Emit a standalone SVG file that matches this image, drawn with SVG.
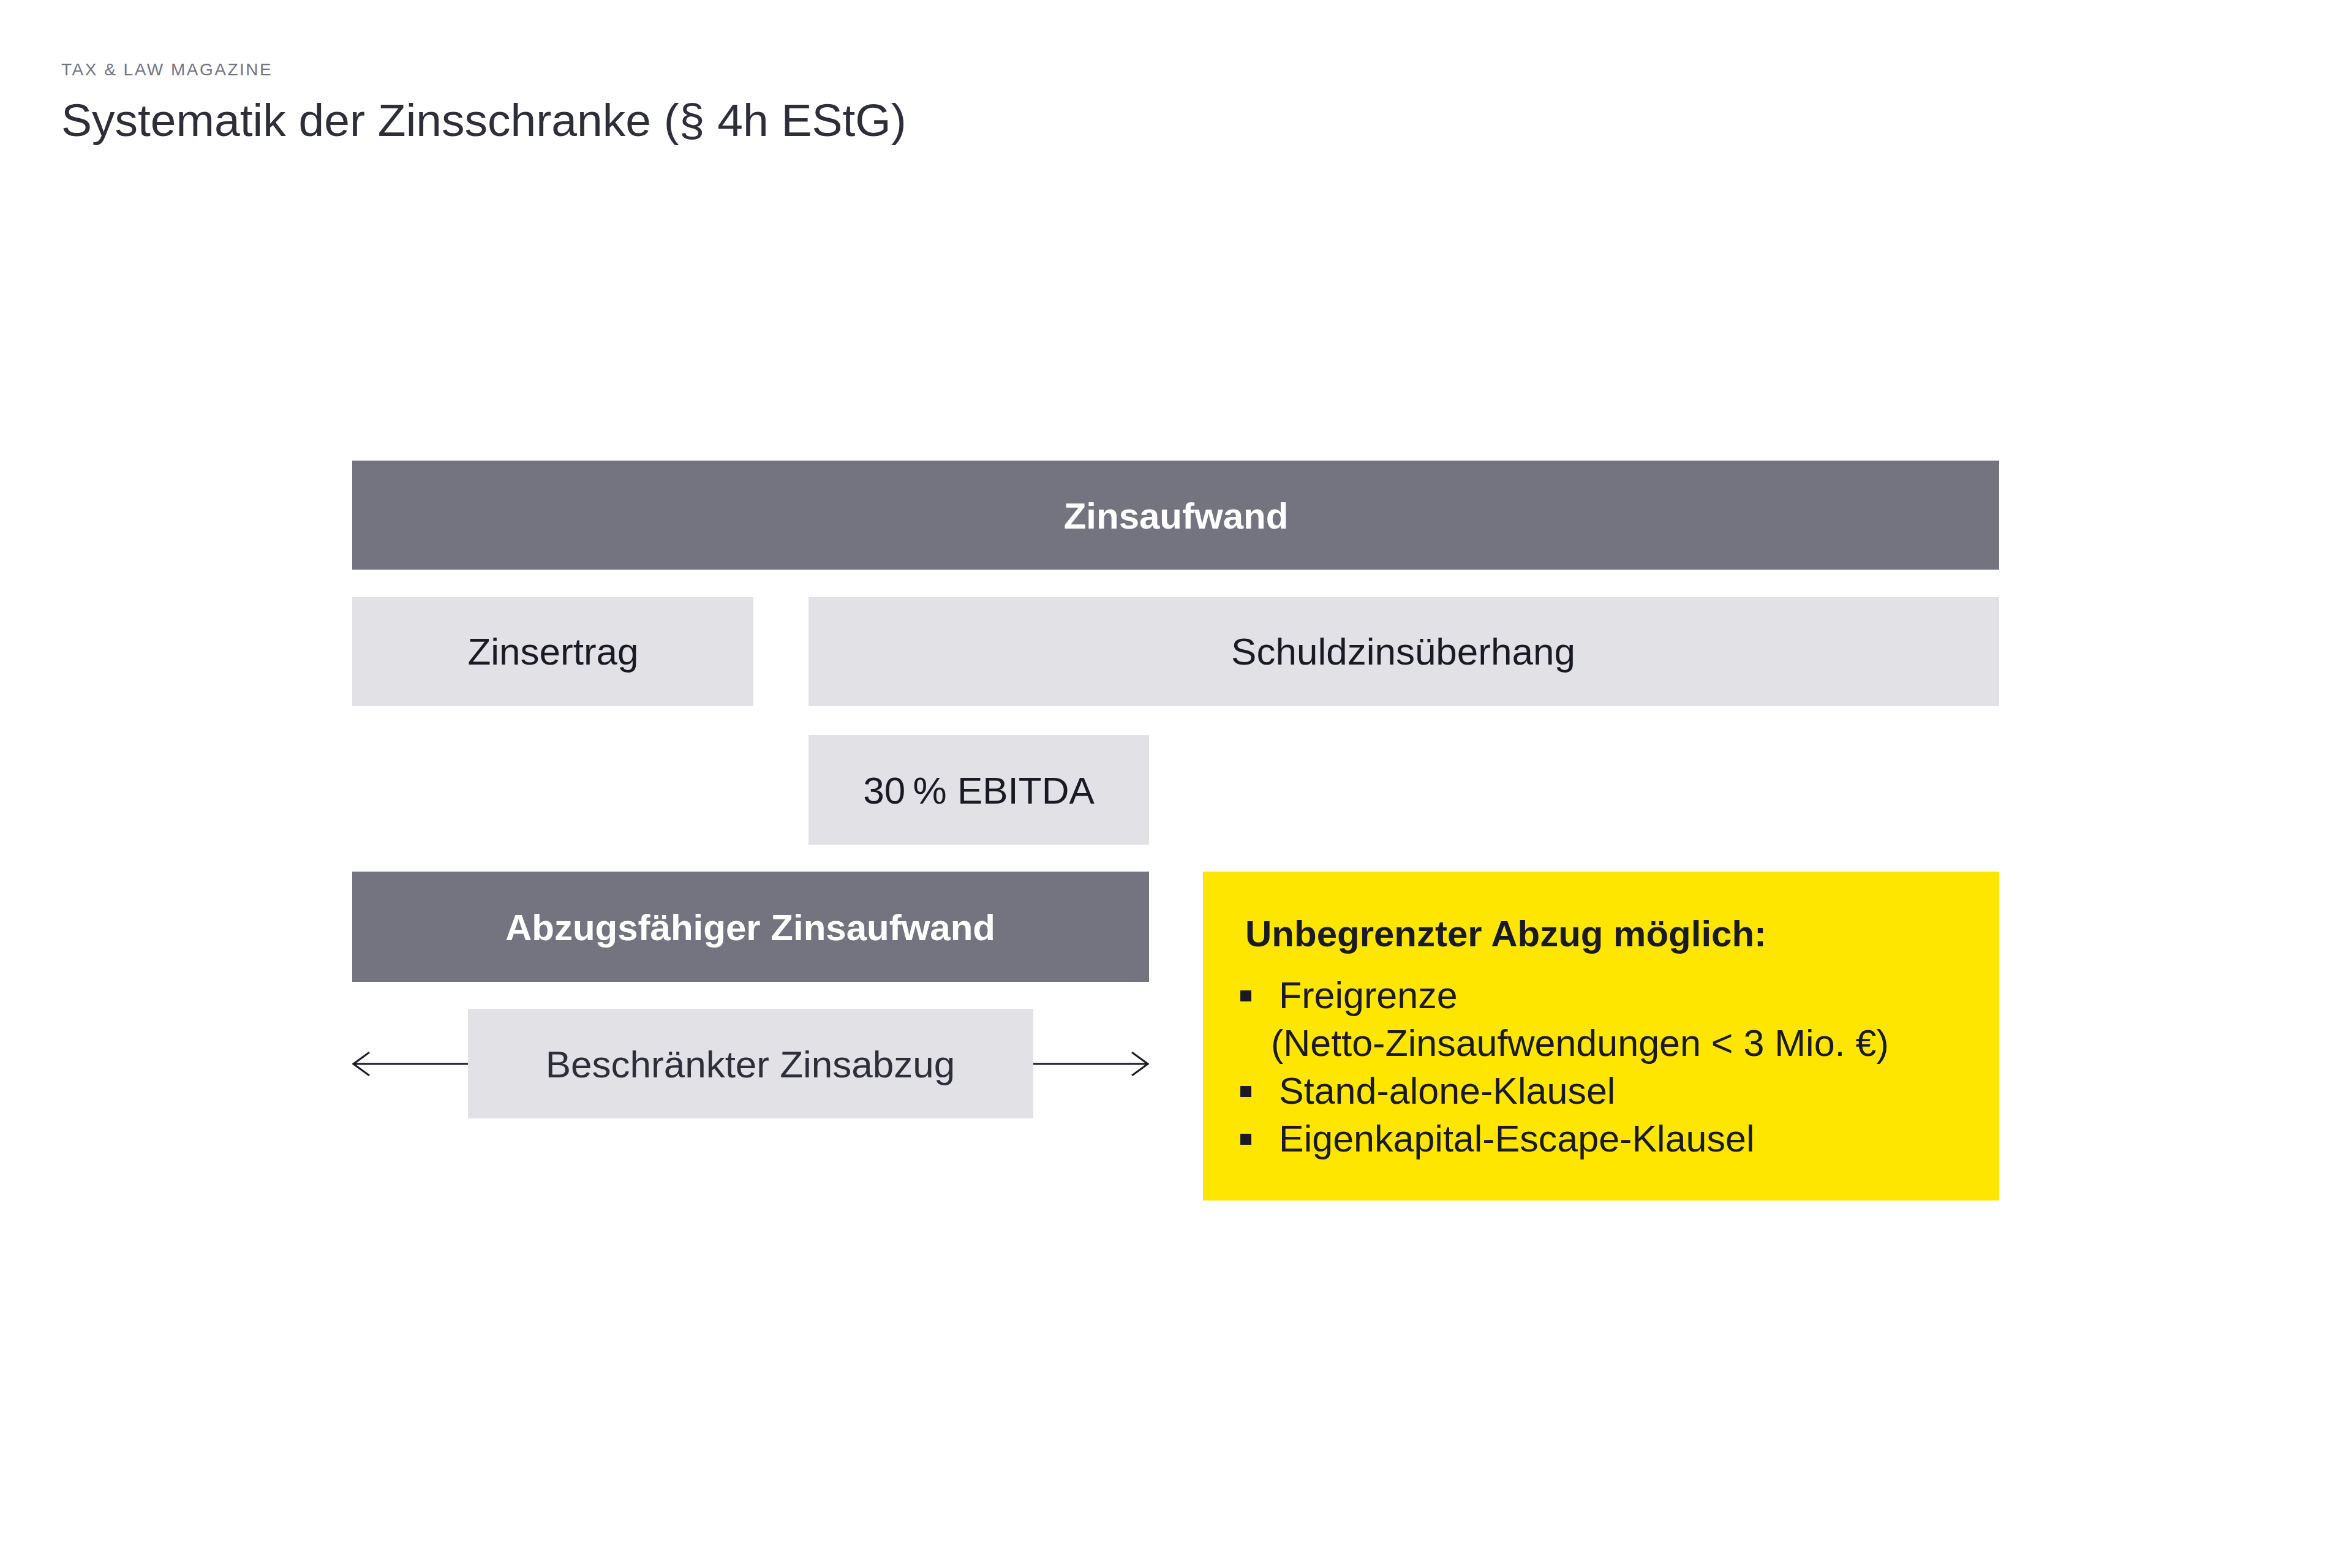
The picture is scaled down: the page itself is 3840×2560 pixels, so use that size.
<svg xmlns="http://www.w3.org/2000/svg" width="3840" height="2560" viewBox="0 0 3840 2560">
<style>
  text { font-family: "Liberation Sans", Arial, sans-serif; }
  .dark { fill: #747480; }
  .light { fill: #e1e1e6; }
  .yellow { fill: #ffe600; }
  .lbl { font-size: 62px; fill: #1a1a24; text-anchor: middle; }
  .lblw { font-size: 60px; font-weight: bold; fill: #ffffff; text-anchor: middle; }
  .item { font-size: 61px; fill: #1a1a24; }
  .conn { stroke: #1a1a24; stroke-width: 3; fill: none; }
</style>
<defs>
  <marker id="chev" viewBox="0 0 30 40" refX="28" refY="20" markerWidth="30" markerHeight="40" markerUnits="userSpaceOnUse" orient="auto">
    <path d="M2,1 L28,20 L2,39" fill="none" stroke="#1a1a24" stroke-width="3"/>
  </marker>
</defs>
<rect width="3840" height="2560" fill="#ffffff"/>
<text x="100" y="123" font-size="28" letter-spacing="2.5" fill="#747480">TAX &amp; LAW MAGAZINE</text>
<text x="100" y="222" font-size="75" fill="#2e2e38">Systematik der Zinsschranke (§ 4h EStG)</text>

<g id="zinsaufwand">
  <rect class="dark" x="575" y="752" width="2689" height="178"/>
  <text class="lblw" x="1920" y="863">Zinsaufwand</text>
</g>
<g id="zinsertrag">
  <rect class="light" x="575" y="975" width="655" height="178"/>
  <text class="lbl" x="903" y="1085">Zinsertrag</text>
</g>
<g id="schuldzinsueberhang">
  <rect class="light" x="1320" y="975" width="1944" height="178"/>
  <text class="lbl" x="2291" y="1085">Schuldzinsüberhang</text>
</g>
<g id="ebitda">
  <rect class="light" x="1320" y="1200" width="556" height="179"/>
  <text class="lbl" x="1598" y="1312">30&#8201;% EBITDA</text>
</g>
<g id="abzugsfaehig">
  <rect class="dark" x="575" y="1423" width="1301" height="180"/>
  <text class="lblw" x="1225" y="1535">Abzugsfähiger Zinsaufwand</text>
</g>
<g id="beschraenkt">
  <rect class="light" x="764" y="1647" width="923" height="179"/>
  <text class="lbl" x="1225" y="1759" style="fill:#2e2e38">Beschränkter Zinsabzug</text>
</g>
<g id="unbegrenzt">
  <rect class="yellow" x="1964" y="1423" width="1300" height="537"/>
  <text x="2033" y="1545" font-size="60" font-weight="bold" fill="#1a1a24">Unbegrenzter Abzug möglich:</text>
  <rect x="2025" y="1617" width="18" height="18" fill="#1a1a24"/>
  <text class="item" x="2088" y="1646">Freigrenze</text>
  <text class="item" x="2075" y="1724">(Netto-Zinsaufwendungen &lt; 3 Mio. €)</text>
  <rect x="2025" y="1773" width="18" height="18" fill="#1a1a24"/>
  <text class="item" x="2088" y="1802">Stand-alone-Klausel</text>
  <rect x="2025" y="1851" width="18" height="18" fill="#1a1a24"/>
  <text class="item" x="2088" y="1880">Eigenkapital-Escape-Klausel</text>
</g>

<g id="connectors">
  <line class="conn" x1="764" y1="1737" x2="577" y2="1737" marker-end="url(#chev)"/>
  <line class="conn" x1="1687" y1="1737" x2="1874" y2="1737" marker-end="url(#chev)"/>
</g>
</svg>
